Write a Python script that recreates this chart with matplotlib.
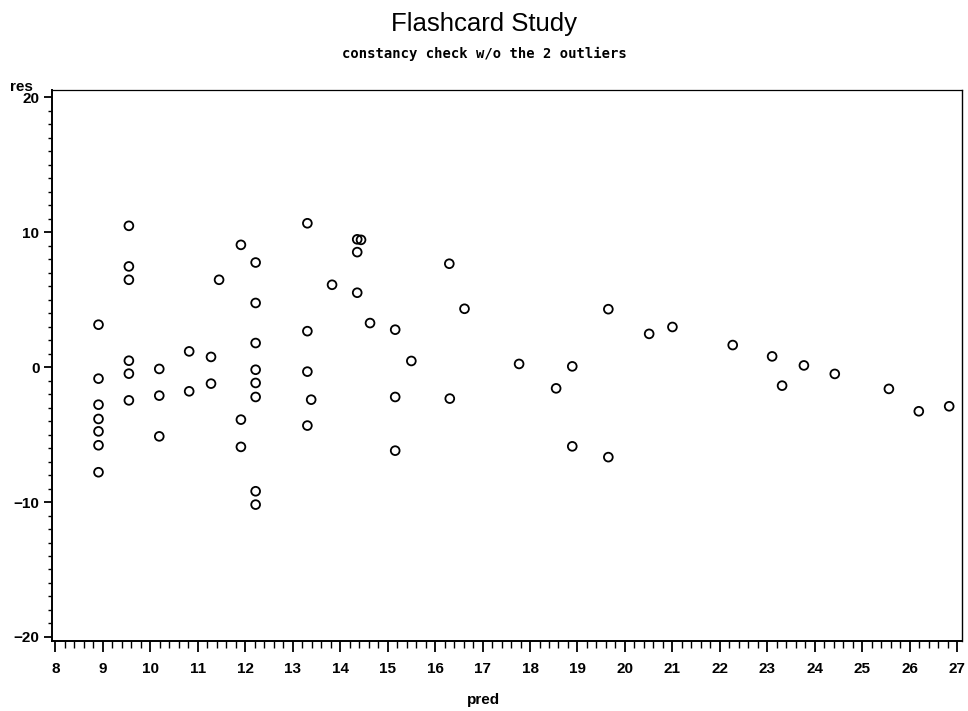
"""Flashcard Study: residual vs predicted scatter (constancy check)."""

import matplotlib

matplotlib.use("Agg")
import matplotlib.pyplot as plt
from matplotlib.ticker import MultipleLocator

# ---------------------------------------------------------------------------
# data
# ---------------------------------------------------------------------------

pred = [
    8.91, 8.91, 8.91, 8.91, 8.91, 8.91, 8.91,
    9.55, 9.55, 9.55, 9.55, 9.55, 9.55,
    10.19, 10.19, 10.19,
    10.82, 10.82,
    11.28, 11.28,
    11.45,
    11.91, 11.91, 11.91,
    12.22, 12.22, 12.22, 12.22, 12.22, 12.22, 12.22, 12.22,
    13.31, 13.31, 13.31, 13.31,
    13.39,
    13.83,
    14.36, 14.36, 14.36,
    14.44,
    14.63,
    15.16, 15.16, 15.16,
    15.50,
    16.30, 16.31,
    16.62,
    17.77,
    18.55,
    18.89, 18.89,
    19.65, 19.65,
    20.51,
    21.00,
    22.27,
    23.10,
    23.31,
    23.77,
    24.42,
    25.56,
    26.19,
    26.83,
]

res = [
    3.15, -0.85, -2.78, -3.84, -4.76, -5.79, -7.79,
    10.48, 7.47, 6.48, 0.48, -0.48, -2.46,
    -0.13, -2.11, -5.13,
    1.17, -1.79,
    0.76, -1.22,
    6.48,
    9.07, -3.89, -5.91,
    7.76, 4.76, 1.79, -0.19, -1.17, -2.21, -9.20, -10.19,
    10.67, 2.67, -0.33, -4.33,
    -2.41,
    6.11,
    9.48, 8.53, 5.52,
    9.44,
    3.27,
    2.78, -2.21, -6.19,
    0.46,
    7.67, -2.33,
    4.33,
    0.24,
    -1.57,
    0.06, -5.87,
    4.30, -6.67,
    2.47,
    2.98,
    1.64,
    0.80,
    -1.37,
    0.13,
    -0.50,
    -1.61,
    -3.27,
    -2.90,
]

x_ticks = list(range(8, 28))
y_ticks = [-20, -10, 0, 10, 20]

# ---------------------------------------------------------------------------
# 描画
# ---------------------------------------------------------------------------

_LABEL_FONT = ["Liberation Sans Narrow", "Liberation Sans", "DejaVu Sans"]
_TITLE_FONT = ["Liberation Sans Narrow", "Liberation Sans", "DejaVu Sans"]

fig = plt.figure(figsize=(9.68, 7.11), dpi=100)
ax = fig.add_axes([0.0537, 0.0985, 0.9401, 0.7749])

ax.scatter(pred, res, s=40, facecolors="none", edgecolors="black", linewidths=1.3, zorder=3)

ax.set_xlim(7.93, 27.1)
ax.set_ylim(-20.3, 20.55)

ax.set_xticks(x_ticks)
ax.set_yticks(y_ticks)
ax.xaxis.set_minor_locator(MultipleLocator(0.2))
ax.yaxis.set_minor_locator(MultipleLocator(1))

ax.tick_params(axis="x", which="major", direction="out", length=8, width=1.3, pad=7)
ax.tick_params(axis="x", which="minor", direction="out", length=5, width=1.0)
ax.tick_params(axis="y", which="major", direction="out", length=6, width=1.3, pad=3)
ax.tick_params(axis="y", which="minor", direction="out", length=3, width=1.0)

for lbl in ax.get_xticklabels() + ax.get_yticklabels():
    lbl.set_fontfamily(_LABEL_FONT)
    lbl.set_fontweight("bold")
    lbl.set_fontsize(11)

for side in ["left", "bottom"]:
    ax.spines[side].set_linewidth(1.4)
ax.spines["top"].set_linewidth(0.9)
ax.spines["right"].set_linewidth(1.0)

# 軸ラベル
fig.text(0.022, 0.878, "res", family=_LABEL_FONT, fontweight="bold", fontsize=11, ha="center", va="center")
fig.text(0.5, 0.015, "pred", family=_LABEL_FONT, fontweight="bold", fontsize=11, ha="center", va="center")

# タイトル
fig.text(0.5, 0.966, "Flashcard Study", family=_TITLE_FONT, fontsize=18.5, ha="center", va="center")
fig.text(0.5, 0.924, "constancy check w/o the 2 outliers", family=["DejaVu Sans Mono"],
         fontweight="bold", fontsize=10, ha="center", va="center")

fig.savefig("out.png", dpi=100)
plt.close(fig)
